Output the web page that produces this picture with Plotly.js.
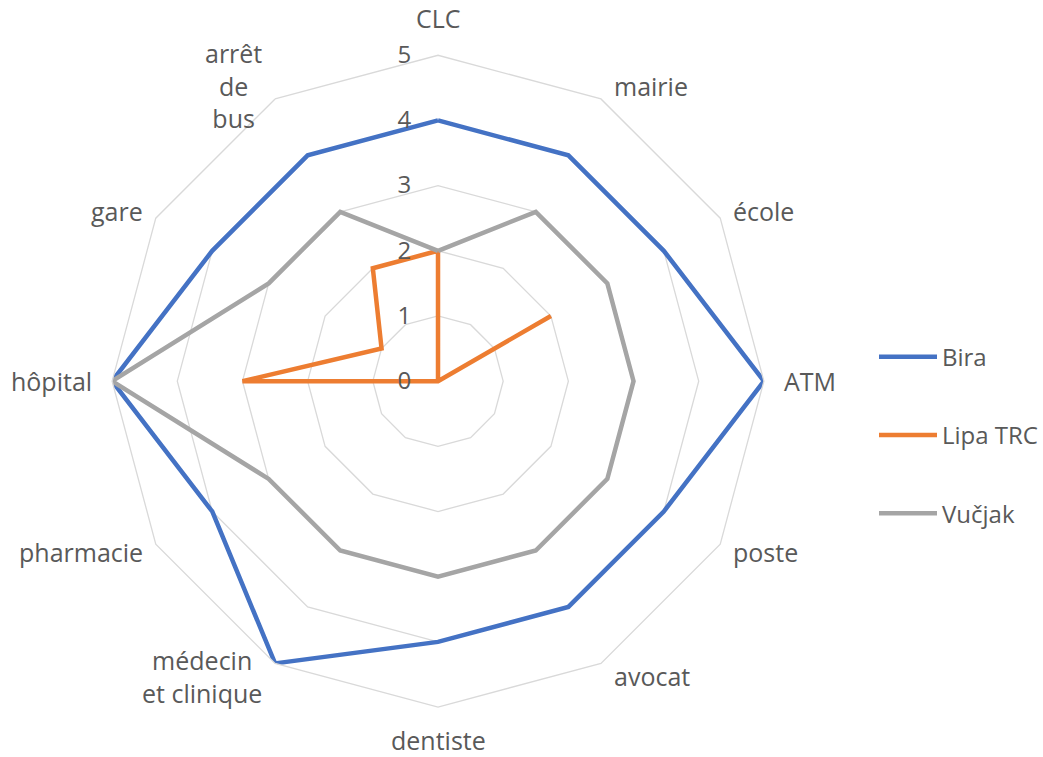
<!DOCTYPE html>
<html><head><meta charset="utf-8">
<script src="https://cdn.plot.ly/plotly-3.0.1.min.js"></script>
<style>body{margin:0;background:#fff}#chart{width:1043px;height:757px}</style>
</head><body><div id="chart"></div>
<script>
const categories = ["CLC","mairie","école","ATM","poste","avocat","dentiste","médecin et clinique","pharmacie","hôpital","gare","arrêt de bus"];
const categoryLabels = ["CLC","mairie","école","ATM","poste","avocat","dentiste","médecin<br>et clinique","pharmacie","hôpital","gare","arrêt<br>de<br>bus"];
const bira = [4,4,4,5,4,4,4,5,4,5,4,4];
const lipa = [2,0,2,0,0,0,0,0,0,3,1,2];
const vucjak = [2,3,3,3,3,3,3,3,3,5,3,3];
const seriesNames = ["Bira","Lipa TRC","Vučjak"];
const colors = ["#4472C4","#ED7D31","#A5A5A5"];
const radialTicks = [0,1,2,3,4,5];

function closed(a){return a.concat([a[0]]);}
const data = [bira,lipa,vucjak].map((v,i)=>({
  type:'scatterpolar', mode:'lines',
  r: closed(v), theta: closed(categories),
  name: seriesNames[i], legendgroup: 'g'+i,
  line:{color:colors[i], width:4.5, shape:'linear'},
  hoverinfo:'skip'
}));

const W = 1043, H = 757;
const dom = {x:[0.1074,0.7325], y:[0.066,0.927]};
const cx = (dom.x[0]+dom.x[1])/2, cy = (dom.y[0]+dom.y[1])/2;
const rx = (dom.x[1]-dom.x[0])/2, ry = (dom.y[1]-dom.y[0])/2;

// category labels placed just outside the outer polygon, Excel style
const annotations = categoryLabels.map((lab,i)=>{
  const a = (90 - i*360/categoryLabels.length)*Math.PI/180;
  const c = Math.cos(a), s = Math.sin(a);
  let xanchor = 'center', xshift = 0, yshift;
  if (c > 0.1) { xanchor='left'; xshift = c>0.99 ? 18 : 11; }
  else if (c < -0.1) { xanchor='right'; xshift = c<-0.99 ? -18 : -11; }
  if (s > 0.99) yshift = 37;
  else if (s < -0.99) yshift = -33;
  else yshift = s*15;
  return {text:lab, xref:'paper', yref:'paper', x: cx + rx*c, y: cy + ry*s,
    xanchor, yanchor:'middle', xshift, yshift, showarrow:false, align:'center',
    font:{size:25, color:'#595959'}};
});

const layout = {
  width:W, height:H,
  margin:{l:0,r:0,t:0,b:0},
  paper_bgcolor:'#fff',
  font:{family:'"Open Sans", "Liberation Sans", sans-serif', size:24, color:'#595959'},
  showlegend:true,
  legend:{x:0.838, y:0.425, xanchor:'left', yanchor:'middle', tracegroupgap:44, itemwidth:58,
    font:{size:24, color:'#595959'}, bgcolor:'rgba(0,0,0,0)'},
  annotations,
  polar:{
    domain:dom,
    gridshape:'linear',
    bgcolor:'#fff',
    radialaxis:{range:[0,5], tickvals:radialTicks, angle:90, tickangle:90, showline:false,
      ticks:'outside', ticklen:18, tickcolor:'rgba(0,0,0,0)',
      gridcolor:'#D9D9D9', gridwidth:1.3, tickfont:{size:24,color:'#595959'}, side:'counterclockwise'},
    angularaxis:{rotation:90, direction:'clockwise', showgrid:false, showline:true,
      linecolor:'#D9D9D9', linewidth:1.3, ticks:'', showticklabels:false}
  }
};
Plotly.newPlot('chart', data, layout, {displayModeBar:false, staticPlot:true});
</script></body></html>
